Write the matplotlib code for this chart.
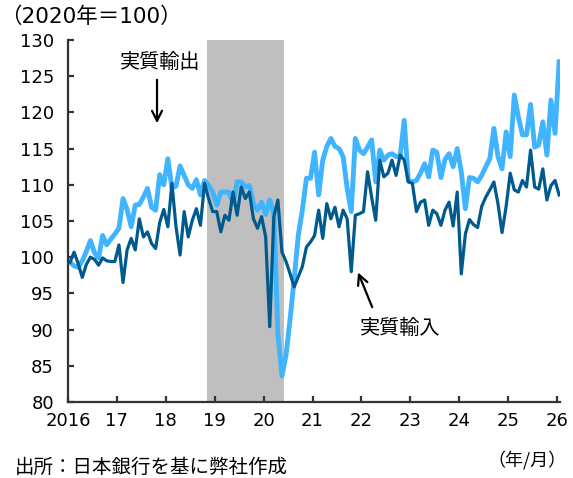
import matplotlib
matplotlib.use("Agg")
import matplotlib.pyplot as plt
import numpy as np

# ---- data (monthly, Jan 2016 .. Jan 2026), index 2020 = 100 ----
start_year = 2016
exports = [
    99.3, 98.8, 98.6, 99.5, 100.8, 102.3, 100.6, 99.9, 103.0, 101.7, 102.5, 103.2,   # 2016
    104.0, 108.1, 106.6, 104.2, 107.2, 107.3, 108.3, 109.5, 106.9, 106.5, 111.4, 110.0,  # 2017
    113.6, 109.6, 109.8, 112.6, 111.3, 110.0, 109.5, 110.7, 108.6, 110.6, 109.9, 109.0,  # 2018
    107.2, 109.0, 109.0, 109.0, 107.4, 110.4, 110.4, 109.7, 109.9, 107.4, 106.5, 107.6,  # 2019
    105.9, 107.9, 106.0, 89.5, 83.6, 86.5, 91.5, 97.0, 103.0, 106.5, 110.9, 110.9,      # 2020
    114.5, 108.6, 113.4, 115.3, 116.4, 115.3, 115.0, 113.9, 109.5, 106.3, 116.4, 114.8,  # 2021
    114.3, 115.2, 116.2, 110.4, 114.8, 113.4, 114.1, 114.3, 113.9, 114.0, 118.9, 110.6,  # 2022
    110.4, 110.6, 111.6, 112.9, 111.1, 114.8, 114.5, 111.0, 113.5, 114.3, 112.5, 115.0,  # 2023
    111.8, 106.7, 111.0, 110.9, 110.4, 111.3, 112.5, 113.6, 117.8, 113.9, 112.2, 117.3,  # 2024
    113.9, 122.4, 119.4, 116.9, 116.9, 121.1, 115.2, 115.5, 118.7, 114.1, 121.7, 117.1,  # 2025
    127.0,                                                                               # 2026
]
imports = [
    99.3, 100.7, 99.1, 97.2, 99.0, 100.0, 99.7, 98.9, 99.9, 99.5, 99.4, 99.4,           # 2016
    101.7, 96.5, 101.0, 102.6, 101.0, 105.3, 102.8, 103.5, 101.9, 101.2, 104.8, 106.6,  # 2017
    104.2, 110.2, 104.2, 100.3, 106.3, 102.8, 105.1, 106.7, 104.4, 110.2, 108.1, 106.3,  # 2018
    106.3, 103.5, 105.8, 105.1, 109.0, 105.8, 109.7, 108.1, 109.0, 105.3, 104.0, 105.6,  # 2019
    102.8, 90.4, 105.6, 107.9, 100.7, 99.4, 97.7, 95.9, 97.3, 98.7, 101.4, 102.1,       # 2020
    103.0, 106.5, 102.6, 107.4, 105.3, 106.9, 104.2, 106.5, 105.3, 98.0, 105.8, 106.0,  # 2021
    106.3, 111.8, 108.3, 105.1, 113.4, 111.1, 111.6, 113.4, 111.3, 114.1, 113.4, 110.4,  # 2022
    110.2, 106.3, 107.6, 107.9, 104.4, 106.5, 106.0, 104.4, 106.5, 107.6, 104.3, 109.0,  # 2023
    97.7, 103.2, 105.2, 104.5, 104.1, 107.0, 108.3, 109.3, 110.4, 107.4, 103.4, 107.0,  # 2024
    111.6, 109.3, 109.0, 110.6, 109.7, 114.8, 109.7, 109.4, 112.2, 107.9, 109.9, 110.6,  # 2025
    108.6,                                                                               # 2026
]
recession = (2018.84, 2020.42)
year_ticks = list(range(2016, 2027))
year_labels = ["2016", "17", "18", "19", "20", "21", "22", "23", "24", "25", "26"]
y_ticks = list(range(80, 131, 5))

n = len(exports)
x = start_year + (np.arange(n) + 0.5) / 12.0

plt.rcParams['font.family'] = ['DejaVu Sans', 'Noto Sans CJK JP']
cjk = ['Noto Sans CJK JP', 'DejaVu Sans']
mixed = ['DejaVu Sans', 'Noto Sans CJK JP']

fig = plt.figure(figsize=(5.73, 4.78), dpi=100)
ax = fig.add_axes([68 / 573, 76 / 478, 492 / 573, 362 / 478])

ax.axvspan(recession[0], recession[1], color='#BFBFBF', lw=0, zorder=0)
ax.plot(x, exports, color='#40B4FF', lw=3.5, solid_joinstyle='round', zorder=2)
ax.plot(x, imports, color='#005A8E', lw=2.3, solid_joinstyle='round', zorder=3)

ax.set_xlim(2016, 2026.06)
ax.set_ylim(80, 130)
ax.set_xticks(year_ticks)
ax.set_xticklabels(year_labels)
ax.set_yticks(y_ticks)

for s in ['top', 'right']:
    ax.spines[s].set_visible(False)
for s in ['left', 'bottom']:
    ax.spines[s].set_color('#333333')
    ax.spines[s].set_linewidth(1.6)
ax.tick_params(axis='both', direction='in', length=4, width=1.6, color='#333333',
               labelsize=13, labelcolor='black')
ax.tick_params(axis='y', pad=10)
ax.tick_params(axis='x', pad=7)

arrow = dict(arrowstyle='->', lw=1.6, color='black', mutation_scale=18,
             shrinkA=0, shrinkB=0)
ax.text(2017.88, 126.9, '実質輸出', ha='center', va='center', fontsize=14.5, family=cjk)
ax.annotate('', xy=(2017.82, 118.5), xytext=(2017.82, 124.5), arrowprops=arrow)
ax.text(2022.79, 90.2, '実質輸入', ha='center', va='center', fontsize=14.5, family=cjk)
ax.annotate('', xy=(2021.93, 97.9), xytext=(2022.22, 93.1), arrowprops=arrow)

fig.text(0.0, 1 - 17 / 478, '（2020年＝100）', ha='left', va='center',
         fontsize=15.5, family=mixed)
fig.text(15 / 573, 1 - 467 / 478, '出所：日本銀行を基に弊社作成', ha='left', va='center',
         fontsize=14, family=cjk)
fig.text(527 / 573, 1 - 460 / 478, '（年/月）', ha='center', va='center',
         fontsize=13, family=cjk)

fig.savefig('out.png', dpi=100)
